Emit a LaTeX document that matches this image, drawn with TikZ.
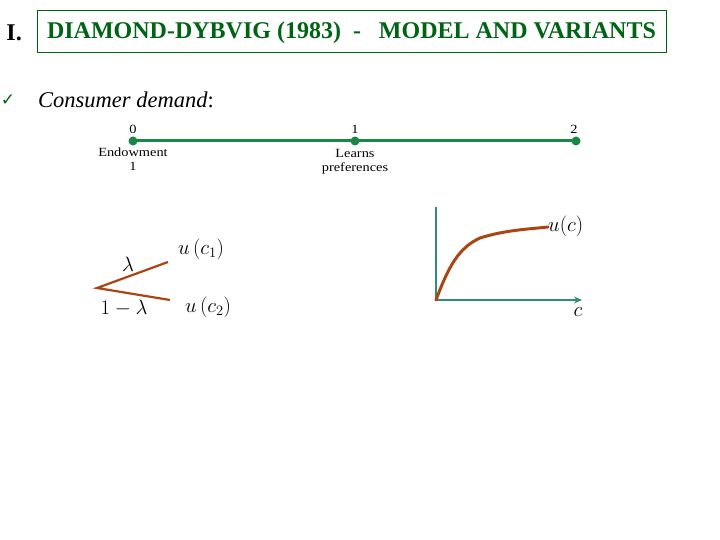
\documentclass[tikz,border=0pt]{standalone}
\usepackage{fontspec}
\setmainfont{Liberation Serif}
\newfontfamily\djv{DejaVu Sans}
\usetikzlibrary{arrows.meta}
\definecolor{titlegreen}{RGB}{0,100,20}
\definecolor{linegreen}{RGB}{25,135,70}
\definecolor{brownc}{RGB}{170,70,20}
\definecolor{axisteal}{RGB}{50,140,120}
\tikzset{
  tl/.style={font=\fontsize{12.5}{13}\selectfont, inner sep=0pt, xscale=1.15, transform shape},
  dotn/.style={circle, fill=linegreen, inner sep=0pt, minimum size=9pt},
  mathlbl/.style={font=\fontsize{22}{24}\selectfont, inner sep=0pt},
}
\begin{document}
\begin{tikzpicture}[x=1pt,y=-1pt]
\useasboundingbox (0,0) rectangle (720,540);
% title
\node[font=\fontsize{24}{26}\selectfont\bfseries, anchor=east, inner sep=0pt] (roman) at (22,33) {I.};
\node[draw=titlegreen, line width=0.8pt, minimum width=629pt, minimum height=42pt, inner sep=0pt] (title) at (351.5,31) {};
\node[text=titlegreen, font=\fontsize{24}{26}\selectfont\bfseries, inner sep=0pt] (ttext) at (351.5,33)
  {DIAMOND-DYBVIG (1983) \ -\ \ \ MODEL AND VARIANTS};
% bullet
\node[text=titlegreen, font=\djv\fontsize{17}{18}\selectfont, inner sep=0pt] (check) at (8,100) {✓};
\node[anchor=west, font=\fontsize{22.5}{24}\selectfont\itshape, inner sep=0pt] (cd) at (38,100) {Consumer demand\upshape:};
% timeline
\node[dotn] (t0) at (133,141) {};
\node[dotn] (t1) at (355,141) {};
\node[dotn] (t2) at (576,141) {};
\draw[linegreen, line width=3pt] (t0.center) -- (t1.center) -- (t2.center);
\node[tl] (l0) at (133,129) {0};
\node[tl] (l1) at (355,129) {1};
\node[tl] (l2) at (574,129) {2};
\node[tl] (endow) at (133,152) {Endowment};
\node[tl] (endow1) at (133,166) {1};
\node[tl] (learn) at (355,153) {Learns};
\node[tl] (pref) at (355,168) {preferences};
% tree
\coordinate (v) at (97,288);
\coordinate (e1) at (168,262);
\coordinate (e2) at (170,300);
\draw[brownc, line width=2.2pt] (e1) -- (v) -- (e2);
\node[mathlbl] (lam) at (128,264) {$\lambda$};
\node[mathlbl] (oml) at (124,308) {$1-\lambda$};
\node[mathlbl] (u1) at (201,249) {$u\,(c_1)$};
\node[mathlbl] (u2) at (208,307) {$u\,(c_2)$};
% utility graph
\coordinate (o) at (436,300);
\coordinate (ytop) at (436,207);
\coordinate (xend) at (582,300);
\draw[axisteal, line width=1.3pt] (ytop) -- (o);
\draw[axisteal, line width=1.3pt, -{Stealth[length=8pt,width=7pt]}] (o) -- (xend);
\coordinate (cend) at (548,227);
\draw[brownc, line width=3pt, line cap=round] (o) .. controls (448,268) and (458,248) .. (480,238) .. controls (505,230) and (530,229) .. (cend);
\node[mathlbl, anchor=west] (uc) at (548,226) {$u(c)$};
\node[mathlbl] (cl) at (578,312) {$c$};
\end{tikzpicture}
\end{document}
